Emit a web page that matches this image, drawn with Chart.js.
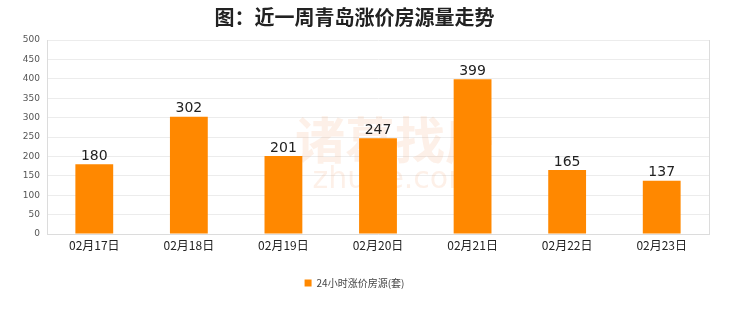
<!DOCTYPE html>
<html><head><meta charset="utf-8">
<script src="https://cdn.jsdelivr.net/npm/chart.js@4/dist/chart.umd.min.js"></script>
<style>html,body{margin:0;padding:0;background:#fff}#w{width:740px;height:312px}</style>
</head><body><div id="w"><canvas id="c"></canvas></div>
<script>
const categories = ["02月17日","02月18日","02月19日","02月20日","02月21日","02月22日","02月23日"];
const values = [180, 302, 201, 247, 399, 165, 137];
const seriesName = "24小时涨价房源(套)";
const titleText = "图：近一周青岛涨价房源量走势";
const yMax = 500, yStep = 50;

const extras = {
  id: 'extras',
  beforeDatasetsDraw(chart) {
    const ctx = chart.ctx, a = chart.chartArea;
    ctx.save();
    ctx.fillStyle = 'rgba(245,160,110,0.16)';
    ctx.font = 'bold 50px "Noto Sans CJK SC"';
    ctx.textAlign = 'center'; ctx.textBaseline = 'middle';
    ctx.fillText('诸葛找房', 395, 140);
    ctx.font = '30px "DejaVu Sans"';
    ctx.fillText('zhuge.com', 395, 180);
    ctx.strokeStyle = '#dcdcdc'; ctx.lineWidth = 1;
    ctx.beginPath();
    ctx.moveTo(Math.round(a.right)+0.5, a.top); ctx.lineTo(Math.round(a.right)+0.5, a.bottom);
    ctx.stroke();
    ctx.restore();
  },
  afterDatasetsDraw(chart) {
    const ctx = chart.ctx;
    const meta = chart.getDatasetMeta(0);
    ctx.save();
    ctx.fillStyle = '#222';
    ctx.font = '14px "DejaVu Sans"';
    ctx.textAlign = 'center'; ctx.textBaseline = 'bottom';
    meta.data.forEach((bar, i) => {
      ctx.fillText(String(chart.data.datasets[0].data[i]), bar.x, bar.y - 1);
    });
    ctx.restore();
  }
};

new Chart(document.getElementById('c'), {
  type: 'bar',
  data: { labels: categories, datasets: [{ label: seriesName, data: values, backgroundColor: '#FF8800', borderWidth: 0, categoryPercentage: 1, barPercentage: 0.4 }] },
  options: {
    responsive: true, maintainAspectRatio: false, animation: false,
    layout: { padding: { left: 0, right: 31, top: 0, bottom: 14 } },
    plugins: {
      title: { display: true, text: titleText, color: '#222', font: { family: '"Noto Sans CJK SC"', size: 20, weight: 'bold' }, padding: { top: 5, bottom: 11 } },
      legend: { position: 'bottom', labels: { boxWidth: 7, boxHeight: 7, color: '#444', font: { family: '"Noto Sans CJK SC"', size: 10 }, padding: 8 } },
      tooltip: { enabled: false }
    },
    scales: {
      x: {
        grid: { display: false, drawTicks: false },
        border: { color: '#dcdcdc' },
        ticks: { color: '#222', font: { family: '"Noto Sans CJK SC"', size: 12 }, padding: 4, maxRotation: 0 },
        afterFit(s) { s.height = 36; }
      },
      y: {
        min: 0, max: yMax,
        grid: { color: '#ececec', drawTicks: false },
        border: { color: '#dcdcdc' },
        ticks: { stepSize: yStep, color: '#555', font: { family: '"DejaVu Sans"', size: 9 }, padding: 7 },
        afterFit(s) { s.width = 47; }
      }
    }
  },
  plugins: [extras]
});
</script></body></html>
